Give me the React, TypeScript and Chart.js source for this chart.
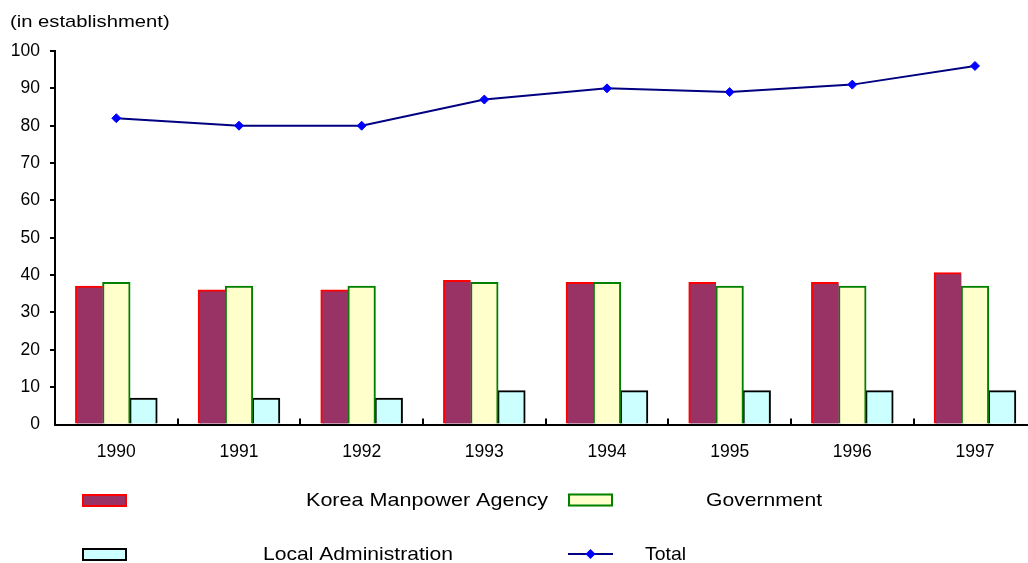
import React, { useEffect, useRef } from "react";
import { Chart, registerables } from "chart.js";

Chart.register(...registerables);

// ---- data ----
const years = ["1990", "1991", "1992", "1993", "1994", "1995", "1996", "1997"];
const koreaManpowerAgency = [37, 36, 36, 38.5, 38, 38, 38, 40.6];
const government = [38, 37, 37, 38, 38, 37, 37, 37];
const localAdministration = [7, 7, 7, 9, 9, 9, 9, 9];
const total = [82, 80, 80, 87, 90, 89, 91, 96];
const seriesNames = ["Korea Manpower Agency", "Government", "Local Administration", "Total"];
const unitLabel = "(in establishment)";
const yMin = 0;
const yMax = 100;
const yStep = 10;

const FONT = "'Liberation Sans', Arial, sans-serif";
const CANVAS_W = 1046;
const CANVAS_H = 563;

const innerTicksPlugin = {
  id: "innerTicks",
  afterDatasetsDraw(chart: any) {
    const xs = chart.scales.x;
    const ctx = chart.ctx;
    const yBase = chart.chartArea.bottom;
    ctx.save();
    ctx.strokeStyle = "#000";
    ctx.lineWidth = 2;
    for (let i = 1; i < years.length; i++) {
      const x = Math.round((xs.getPixelForValue(i - 1) + xs.getPixelForValue(i)) / 2);
      ctx.beginPath();
      ctx.moveTo(x, yBase);
      ctx.lineTo(x, yBase - 6);
      ctx.stroke();
    }
    ctx.restore();
  },
};

function stretchedText(ctx: any, text: string, x: number, y: number, size: number, sx: number) {
  ctx.save();
  ctx.font = `${size}px ${FONT}`;
  ctx.fillStyle = "#000";
  ctx.textBaseline = "middle";
  ctx.textAlign = "left";
  ctx.translate(x, y);
  ctx.scale(sx, 1);
  ctx.fillText(text, 0, 0);
  ctx.restore();
}

const legendPlugin = {
  id: "customLegend",
  afterDraw(chart: any) {
    const ctx = chart.ctx;
    const ds = chart.data.datasets;
    // unit label
    stretchedText(ctx, unitLabel, 10, 22, 17, 1.19);

    const boxes = [
      { i: 0, x: 82, y: 494, tx: 306, ty: 501, sx: 1.165 },
      { i: 1, x: 568, y: 493.5, tx: 706, ty: 500.5, sx: 1.14 },
      { i: 2, x: 82, y: 548, tx: 263, ty: 555, sx: 1.14 },
    ];
    boxes.forEach((b) => {
      const d = ds[b.i];
      ctx.save();
      ctx.fillStyle = d.backgroundColor;
      ctx.fillRect(b.x, b.y, 45, 13);
      ctx.strokeStyle = d.borderColor;
      ctx.lineWidth = 2;
      ctx.strokeRect(b.x + 1, b.y + 1, 43, 11);
      ctx.restore();
      stretchedText(ctx, d.label, b.tx, b.ty, 18.5, b.sx);
    });
    // line entry
    const ld = ds[3];
    ctx.save();
    ctx.strokeStyle = ld.borderColor;
    ctx.lineWidth = 2;
    ctx.beginPath();
    ctx.moveTo(568, 554);
    ctx.lineTo(613, 554);
    ctx.stroke();
    ctx.fillStyle = ld.pointBackgroundColor;
    const cx = 590.5, cy = 554, r = 5;
    ctx.beginPath();
    ctx.moveTo(cx - r, cy);
    ctx.lineTo(cx, cy - r);
    ctx.lineTo(cx + r, cy);
    ctx.lineTo(cx, cy + r);
    ctx.closePath();
    ctx.fill();
    ctx.restore();
    stretchedText(ctx, ld.label, 645, 555, 18.5, 1.05);
  },
};

export default function App() {
  const ref = useRef<HTMLCanvasElement | null>(null);

  useEffect(() => {
    if (!ref.current) return;
    const chart = new Chart(ref.current, {
      type: "bar",
      data: {
        labels: years,
        datasets: [
          {
            type: "bar",
            label: seriesNames[0],
            data: koreaManpowerAgency,
            backgroundColor: "#993366",
            borderColor: "#FF0000",
            borderWidth: { top: 2, left: 2, right: 0, bottom: 0 },
            borderSkipped: false,
            inflateAmount: 0.6,
            order: 2,
          },
          {
            type: "bar",
            label: seriesNames[1],
            data: government,
            backgroundColor: "#FFFFCC",
            borderColor: "#008000",
            borderWidth: { top: 2, left: 2, right: 2, bottom: 0 },
            borderSkipped: false,
            inflateAmount: 0.6,
            order: 2,
          },
          {
            type: "bar",
            label: seriesNames[2],
            data: localAdministration,
            backgroundColor: "#CCFFFF",
            borderColor: "#000000",
            borderWidth: { top: 2, left: 2, right: 2, bottom: 0 },
            borderSkipped: false,
            inflateAmount: 0.6,
            order: 2,
          },
          {
            type: "line",
            label: seriesNames[3],
            data: total,
            borderColor: "#000080",
            borderWidth: 2,
            backgroundColor: "#0000FF",
            pointBackgroundColor: "#0000FF",
            pointBorderColor: "#0000FF",
            pointBorderWidth: 1,
            pointStyle: "rectRot",
            pointRadius: 4.5,
            tension: 0,
            fill: false,
            order: 0,
          },
        ] as any,
      },
      options: {
        animation: false,
        responsive: false,
        maintainAspectRatio: false,
        devicePixelRatio: 1,
        layout: { padding: { top: 51, left: 0, right: CANVAS_W - 1036.3, bottom: 0 } },
        datasets: { bar: { categoryPercentage: 0.663, barPercentage: 1 } } as any,
        plugins: {
          legend: { display: false },
          tooltip: { enabled: false },
          title: { display: false },
        },
        scales: {
          x: {
            offset: true,
            grid: { display: false, drawTicks: false },
            border: { display: true, color: "#000", width: 2 },
            ticks: {
              color: "#000",
              font: { family: FONT, size: 17.5 },
              padding: 17,
              maxRotation: 0,
              autoSkip: false,
            },
            afterFit(scale: any) {
              scale.height = 138.5;
            },
          },
          y: {
            min: yMin,
            max: yMax,
            ticks: {
              stepSize: yStep,
              color: "#000",
              font: { family: FONT, size: 17.5 },
              padding: 10,
            },
            grid: {
              drawOnChartArea: false,
              drawTicks: true,
              tickLength: 5,
              lineWidth: 2,
              color: (c: any) => (c.tick && c.tick.value === 0 ? "rgba(0,0,0,0)" : "#000"),
            },
            border: { display: true, color: "#000", width: 2 },
            afterFit(scale: any) {
              scale.width = 55;
            },
          },
        },
      },
      plugins: [innerTicksPlugin, legendPlugin],
    });
    return () => chart.destroy();
  }, []);

  return (
    <div
      style={{
        position: "fixed",
        left: 0,
        top: 0,
        width: 1028,
        height: 563,
        overflow: "hidden",
        background: "#fff",
      }}
    >
      <canvas ref={ref} width={CANVAS_W} height={CANVAS_H} style={{ display: "block" }} />
    </div>
  );
}
